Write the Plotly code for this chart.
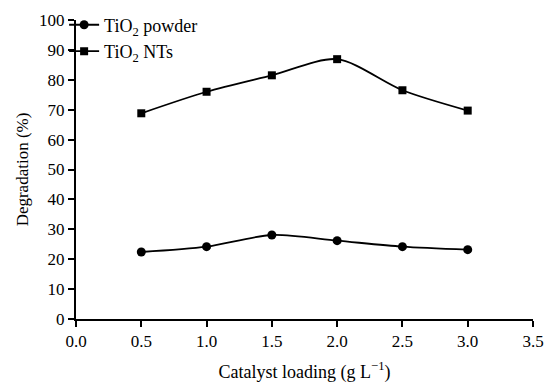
import plotly.graph_objects as go

loading = [0.5, 1.0, 1.5, 2.0, 2.5, 3.0]
powder = [22.4, 24.2, 28.1, 26.2, 24.2, 23.2]
nts = [68.8, 76.0, 81.5, 86.9, 76.5, 69.7]

x_ticks = [0.0, 0.5, 1.0, 1.5, 2.0, 2.5, 3.0, 3.5]
y_ticks = list(range(0, 101, 10))

font_family = "Liberation Serif"

fig = go.Figure()
fig.add_trace(go.Scatter(
    x=loading, y=powder, name="TiO<sub>2</sub> powder",
    mode="lines+markers",
    line=dict(color="black", width=1.8, shape="spline", smoothing=0.8),
    marker=dict(symbol="circle", size=9, color="black"),
))
fig.add_trace(go.Scatter(
    x=loading, y=nts, name="TiO<sub>2</sub> NTs",
    mode="lines+markers",
    line=dict(color="black", width=1.8, shape="spline", smoothing=0.8),
    marker=dict(symbol="square", size=8, color="black"),
))

fig.update_layout(
    width=547, height=383,
    margin=dict(l=76, r=14, t=20, b=64, autoexpand=False),
    paper_bgcolor="white", plot_bgcolor="white",
    font=dict(family=font_family, size=17, color="black"),
    showlegend=True,
    legend=dict(x=-0.026, y=1.045, xanchor="left", yanchor="top",
                bgcolor="rgba(0,0,0,0)", font=dict(size=18),
                tracegroupgap=0, itemwidth=30),
    xaxis=dict(
        range=[0, 3.5], tickvals=x_ticks, ticktext=[f"{v:.1f}" for v in x_ticks],
        showline=True, linecolor="black", linewidth=2,
        ticks="outside", ticklen=6, tickwidth=2, tickcolor="black",
        showgrid=False, zeroline=False, automargin=False,
        title=dict(text="Catalyst loading (g L<sup>−1</sup>)", standoff=16,
                   font=dict(size=18)),
    ),
    yaxis=dict(
        range=[0, 100], tickvals=y_ticks,
        showline=True, linecolor="black", linewidth=2,
        ticks="outside", ticklen=6, tickwidth=2, tickcolor="black",
        showgrid=False, zeroline=False, automargin=False,
        title=dict(text="Degradation (%)", standoff=6, font=dict(size=17)),
    ),
)

fig.write_html(
    "out.html",
    config={"displayModeBar": False},
    post_script="document.body.style.margin='0';document.body.style.padding='0';",
)
